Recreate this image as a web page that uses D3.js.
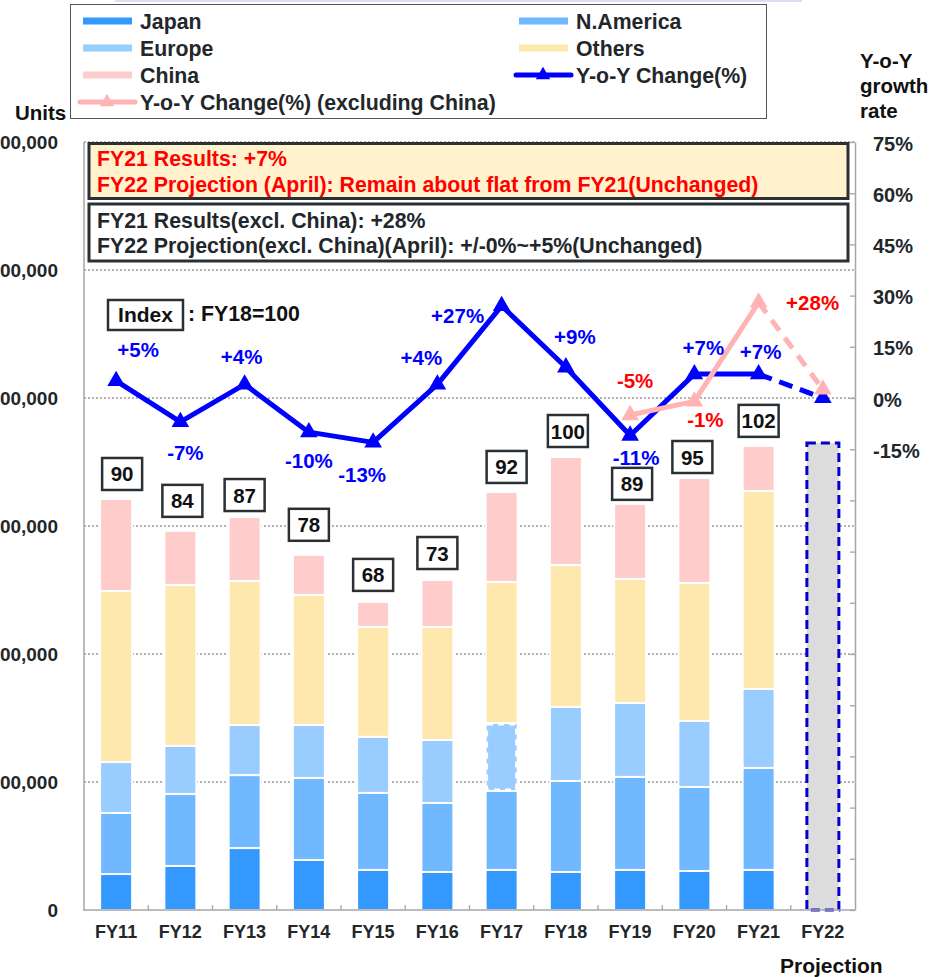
<!DOCTYPE html>
<html lang="en">
<head>
  <meta charset="UTF-8">
  <title>Unit sales by region</title>
  <script src="https://d3js.org/d3.v7.min.js"></script>
  <style>
    body { margin: 0; background: #fff; }
    svg { display: block; font-family: 'Liberation Sans', Arial, sans-serif; font-weight: bold; }
  </style>
</head>
<body>
  <script>
    // data (units)
    const categories = ['FY11', 'FY12', 'FY13', 'FY14', 'FY15', 'FY16', 'FY17', 'FY18', 'FY19', 'FY20', 'FY21', 'FY22'];
    const japan    = [28100, 34400, 48400, 39100, 31300, 29700, 31300, 29700, 31300, 30500, 31300];
    const nAmerica = [47700, 56300, 57000, 64100, 60200, 53900, 61700, 71100, 72700, 65600, 79700];
    const europe   = [39800, 37500, 39100, 41400, 43800, 49200, 53100, 57800, 57800, 51600, 61700];
    const others   = [133600, 125800, 112500, 101600, 85900, 88300, 110200, 110900, 96900, 107800, 154700];
    const china    = [71900, 42200, 50000, 31300, 19500, 36700, 70300, 84400, 58600, 82000, 35200];
    const projectionTotal = 364800; // FY22
    const indexValues = [90, 84, 87, 78, 68, 73, 92, 100, 89, 95, 102];
    const yoy = [5, -7, 4, -10, -13, 4, 27, 9, -11, 7, 7, 0];
    const yoyExChina = [null, null, null, null, null, null, null, null, -5, -1, 28, 2.5];
    const yoyLabels = ['+5%', '-7%', '+4%', '-10%', '-13%', '+4%', '+27%', '+9%', '-11%', '+7%', '+7%', null];
    const yoyExLabels = [null, null, null, null, null, null, null, null, '-5%', '-1%', '+28%', null];
    const leftTicks = [0, 100000, 200000, 300000, 400000, 500000, 600000];
    const rightTicks = [-150, -135, -120, -105, -90, -75, -60, -45, -30, -15, 0, 15, 30, 45, 60, 75];
    const rightTickLabels = { '-15': '-15%', '0': '0%', '15': '15%', '30': '30%', '45': '45%', '60': '60%', '75': '75%' };

    // label placement relative to each point (dx, dy of baseline)
    const yoyLabelOffsets = [[22, -24], [5, 38], [-3, -20], [0, 36], [-11, 40], [-16, -19], [-44, 17], [9, -23], [6, 29], [9, -19], [2, -15], null];
    const yoyExLabelOffsets = [null, null, null, null, null, null, null, null, [5, -27], [11, 26], [54, 8], null];
    // index box offset from bar top (dx, gap above)
    const indexBoxOffsets = [[6, 25], [2, 30], [0, 22], [0, 30], [0, 27], [0, 27], [5, 25], [2, 26], [2, 20], [-2, 21], [0, 25]];

    const colors = {
      japan: '#3399FF', nAmerica: '#70B8FF', europe: '#99CCFF', others: '#FFE8AD', china: '#FFCCCC',
      yoy: '#0000FF', yoyEx: '#FFB3B3', proj: '#DCDCDC', projStroke: '#0000CC', text: '#22272b'
    };
    const keys = ['japan', 'nAmerica', 'europe', 'others', 'china'];
    const series = { japan, nAmerica, europe, others, china };
    const table = categories.slice(0, 11).map((c, i) => {
      const row = { year: c };
      keys.forEach(k => { row[k] = series[k][i]; });
      return row;
    });

    const W = 932, H = 977;
    const plot = { left: 84, right: 855, top: 142, bottom: 910 };
    const font = "'Liberation Sans', Arial, sans-serif";

    const svg = d3.select('body').append('svg').attr('width', W).attr('height', H);

    const x = d3.scaleBand().domain(categories).range([plot.left, plot.right]);
    const y = d3.scaleLinear().domain([0, 600000]).range([plot.bottom, plot.top]);
    const yR = d3.scaleLinear().domain([-150, 75]).range([plot.bottom, plot.top]);
    const barW = 32;
    const cx = c => x(c) + x.bandwidth() / 2;

    // faint line at the very top
    svg.append('rect').attr('x', 115).attr('y', 0).attr('width', 687).attr('height', 2).attr('fill', '#dedef0');

    // gridlines
    svg.append('g').selectAll('line').data(leftTicks.slice(1)).join('line')
      .attr('x1', plot.left).attr('x2', plot.right)
      .attr('y1', d => y(d)).attr('y2', d => y(d))
      .attr('stroke', '#9a9a9a').attr('stroke-width', 1.3).attr('stroke-dasharray', '2,2');

    // stacked bars
    const stack = d3.stack().keys(keys)(table);
    svg.append('g').selectAll('g').data(stack).join('g')
      .attr('fill', d => colors[d.key])
      .selectAll('rect').data(d => d).join('rect')
      .attr('x', d => cx(d.data.year) - barW / 2)
      .attr('y', d => y(d[1]))
      .attr('width', barW)
      .attr('height', d => y(d[0]) - y(d[1]))
      .attr('stroke', '#fff').attr('stroke-width', 2);

    // FY17 Europe segment drawn with a dashed edge
    const fy17 = stack[keys.indexOf('europe')][6];
    svg.append('rect')
      .attr('x', cx('FY17') - barW / 2 + 1.5).attr('y', y(fy17[1]) + 1.5)
      .attr('width', barW - 3).attr('height', y(fy17[0]) - y(fy17[1]) - 3)
      .attr('fill', colors.europe).attr('stroke', '#fff').attr('stroke-width', 2)
      .attr('stroke-dasharray', '6,5');

    // FY22 projection bar
    svg.append('rect')
      .attr('x', cx('FY22') - barW / 2).attr('y', y(projectionTotal))
      .attr('width', barW).attr('height', y(0) - y(projectionTotal))
      .attr('fill', colors.proj).attr('stroke', colors.projStroke)
      .attr('stroke-width', 3).attr('stroke-dasharray', '9,5');

    // axes frame
    const axisColor = '#a6a6a6';
    svg.append('line').attr('x1', plot.left).attr('x2', plot.left).attr('y1', plot.top).attr('y2', plot.bottom + 1)
      .attr('stroke', axisColor).attr('stroke-width', 1.5);
    svg.append('line').attr('x1', plot.left).attr('x2', plot.right).attr('y1', plot.bottom).attr('y2', plot.bottom)
      .attr('stroke', axisColor).attr('stroke-width', 1.5);
    svg.append('g').selectAll('line').data(categories.slice(1)).join('line')
      .attr('x1', d => x(d)).attr('x2', d => x(d))
      .attr('y1', plot.bottom).attr('y2', plot.bottom - 5)
      .attr('stroke', axisColor).attr('stroke-width', 1.3);

    // left axis (labels run past the left edge, as in the source image)
    const leftAxis = svg.append('g').attr('transform', `translate(${plot.left},0)`)
      .call(d3.axisLeft(y).tickValues(leftTicks).tickFormat(d3.format(',')).tickSize(0).tickPadding(26));
    leftAxis.select('.domain').remove();
    leftAxis.selectAll('text').attr('font-size', 19).attr('font-weight', 'bold')
      .attr('font-family', font).attr('fill', colors.text);

    // right axis
    const rightAxis = svg.append('g').attr('transform', `translate(${plot.right},0)`)
      .call(d3.axisRight(yR).tickValues(rightTicks).tickFormat(d => rightTickLabels[d] || '')
        .tickSizeInner(-5).tickSizeOuter(0).tickPadding(18));
    rightAxis.select('.domain').attr('stroke', axisColor).attr('stroke-width', 1.5);
    rightAxis.selectAll('.tick line').attr('stroke', axisColor).attr('stroke-width', 1.3);
    rightAxis.selectAll('text').attr('font-size', 20).attr('font-weight', 'bold')
      .attr('font-family', font).attr('fill', colors.text).attr('dy', '0.4em');

    // bottom labels
    const bottomAxis = svg.append('g').attr('transform', `translate(0,${plot.bottom})`)
      .call(d3.axisBottom(x).tickSize(0).tickPadding(15));
    bottomAxis.select('.domain').remove();
    bottomAxis.selectAll('text').attr('font-size', 18).attr('font-weight', 'bold')
      .attr('font-family', font).attr('fill', colors.text);

    // index value boxes
    const idx = svg.append('g').selectAll('g').data(indexValues).join('g')
      .attr('transform', (d, i) => {
        const r = table[i];
        const top = y(r.japan + r.nAmerica + r.europe + r.others + r.china);
        return `translate(${cx(categories[i]) + indexBoxOffsets[i][0]},${top - indexBoxOffsets[i][1]})`;
      });
    idx.append('rect').attr('x', -20).attr('y', -16).attr('width', 40).attr('height', 32)
      .attr('fill', '#fff').attr('stroke', '#2b3035').attr('stroke-width', 2.5);
    idx.append('text').attr('text-anchor', 'middle').attr('y', 7.5).attr('font-size', 20.5)
      .attr('fill', '#111').text(d => d);

    // y-o-y lines
    const line = d3.line().x((d, i) => cx(categories[i])).y(d => yR(d)).defined(d => d !== null);
    const marker = d3.symbol().type(d3.symbolTriangle).size(135);

    const solidBlue = yoy.map((d, i) => (i <= 10 ? d : null));
    const dashBlue = yoy.map((d, i) => (i >= 10 ? d : null));
    svg.append('path').attr('d', line(solidBlue)).attr('fill', 'none')
      .attr('stroke', colors.yoy).attr('stroke-width', 5).attr('stroke-linejoin', 'round');
    svg.append('path').attr('d', line(dashBlue)).attr('fill', 'none')
      .attr('stroke', colors.yoy).attr('stroke-width', 5).attr('stroke-dasharray', '14,8');
    svg.append('g').selectAll('path').data(yoy).join('path')
      .attr('d', marker).attr('fill', colors.yoy)
      .attr('transform', (d, i) => `translate(${cx(categories[i])},${yR(d)})`);

    const solidPink = yoyExChina.map((d, i) => (i <= 10 ? d : null));
    const dashPink = yoyExChina.map((d, i) => (i >= 10 ? d : null));
    svg.append('path').attr('d', line(solidPink)).attr('fill', 'none')
      .attr('stroke', colors.yoyEx).attr('stroke-width', 5).attr('stroke-linejoin', 'round');
    svg.append('path').attr('d', line(dashPink)).attr('fill', 'none')
      .attr('stroke', colors.yoyEx).attr('stroke-width', 5).attr('stroke-dasharray', '13,9');
    svg.append('g').selectAll('path').data(yoyExChina.map((d, i) => ({ d, i })).filter(p => p.d !== null)).join('path')
      .attr('d', marker).attr('fill', colors.yoyEx)
      .attr('transform', p => `translate(${cx(categories[p.i])},${yR(p.d)})`);

    // y-o-y labels
    svg.append('g').selectAll('text').data(yoyLabels.map((t, i) => ({ t, i })).filter(p => p.t)).join('text')
      .attr('x', p => cx(categories[p.i]) + yoyLabelOffsets[p.i][0])
      .attr('y', p => yR(yoy[p.i]) + yoyLabelOffsets[p.i][1])
      .attr('text-anchor', 'middle').attr('font-size', 20.5).attr('fill', colors.yoy).text(p => p.t);
    svg.append('g').selectAll('text').data(yoyExLabels.map((t, i) => ({ t, i })).filter(p => p.t)).join('text')
      .attr('x', p => cx(categories[p.i]) + yoyExLabelOffsets[p.i][0])
      .attr('y', p => yR(yoyExChina[p.i]) + yoyExLabelOffsets[p.i][1])
      .attr('text-anchor', 'middle').attr('font-size', 20.5).attr('fill', '#FF0000').text(p => p.t);

    // note boxes
    svg.append('rect').attr('x', 89).attr('y', 143.5).attr('width', 759).attr('height', 55)
      .attr('fill', '#FFF2CC').attr('stroke', '#2b3035').attr('stroke-width', 3);
    svg.append('text').attr('x', 97).attr('y', 166).attr('font-size', 21.3).attr('fill', '#FF0000')
      .text('FY21 Results: +7%');
    svg.append('text').attr('x', 97).attr('y', 192).attr('font-size', 21.3).attr('fill', '#FF0000')
      .text('FY22 Projection (April): Remain about flat from FY21(Unchanged)');
    svg.append('rect').attr('x', 89).attr('y', 204).attr('width', 759).attr('height', 57)
      .attr('fill', '#fff').attr('stroke', '#2b3035').attr('stroke-width', 3);
    svg.append('text').attr('x', 97).attr('y', 228).attr('font-size', 21.3).attr('fill', colors.text)
      .text('FY21 Results(excl. China): +28%');
    svg.append('text').attr('x', 97).attr('y', 253).attr('font-size', 21.3).attr('fill', colors.text)
      .text('FY22 Projection(excl. China)(April): +/-0%~+5%(Unchanged)');

    // index note
    svg.append('rect').attr('x', 108).attr('y', 300).attr('width', 75).attr('height', 30)
      .attr('fill', '#fff').attr('stroke', '#2b3035').attr('stroke-width', 2.5);
    svg.append('text').attr('x', 145.5).attr('y', 322).attr('text-anchor', 'middle').attr('font-size', 21)
      .attr('fill', '#111').text('Index');
    svg.append('text').attr('x', 188).attr('y', 321).attr('font-size', 21.3).attr('fill', '#111')
      .text(': FY18=100');

    // axis titles
    svg.append('text').attr('x', 15).attr('y', 120).attr('font-size', 20.5).attr('fill', '#111').text('Units');
    const rt = svg.append('text').attr('x', 860).attr('font-size', 20.5).attr('fill', '#111');
    ['Y-o-Y', 'growth', 'rate'].forEach((t, i) => rt.append('tspan').attr('x', 860).attr('y', 68 + i * 25).text(t));
    svg.append('text').attr('x', 780).attr('y', 973).attr('font-size', 21).attr('fill', '#111').text('Projection');

    // legend
    svg.append('rect').attr('x', 70.5).attr('y', 4.5).attr('width', 696).attr('height', 114)
      .attr('fill', '#fff').attr('stroke', '#555').attr('stroke-width', 1);
    const legendItems = [
      { label: 'Japan', color: colors.japan, type: 'bar', col: 0, row: 0 },
      { label: 'N.America', color: colors.nAmerica, type: 'bar', col: 1, row: 0 },
      { label: 'Europe', color: colors.europe, type: 'bar', col: 0, row: 1 },
      { label: 'Others', color: colors.others, type: 'bar', col: 1, row: 1 },
      { label: 'China', color: colors.china, type: 'bar', col: 0, row: 2 },
      { label: 'Y-o-Y Change(%)', color: colors.yoy, type: 'line', col: 1, row: 2 },
      { label: 'Y-o-Y Change(%) (excluding China)', color: colors.yoyEx, type: 'line', col: 0, row: 3 }
    ];
    const colX = [83, 519];
    const rowY = [21, 48, 75, 102];
    const lg = svg.append('g').selectAll('g').data(legendItems).join('g')
      .attr('transform', d => `translate(${colX[d.col]},${rowY[d.row]})`);
    lg.filter(d => d.type === 'bar').append('rect')
      .attr('x', 0).attr('y', -3.5).attr('width', 49).attr('height', 7).attr('fill', d => d.color);
    lg.filter(d => d.type === 'line').append('line')
      .attr('x1', -3).attr('x2', 52).attr('y1', 0).attr('y2', 0)
      .attr('stroke', d => d.color).attr('stroke-width', 5).attr('stroke-linecap', 'round');
    lg.filter(d => d.type === 'line').append('path')
      .attr('d', d3.symbol().type(d3.symbolTriangle).size(90)).attr('fill', d => d.color)
      .attr('transform', 'translate(24,0)');
    lg.append('text').attr('x', 57).attr('y', 7.5).attr('font-size', 21.3).attr('fill', colors.text)
      .text(d => d.label);
  </script>
</body>
</html>
